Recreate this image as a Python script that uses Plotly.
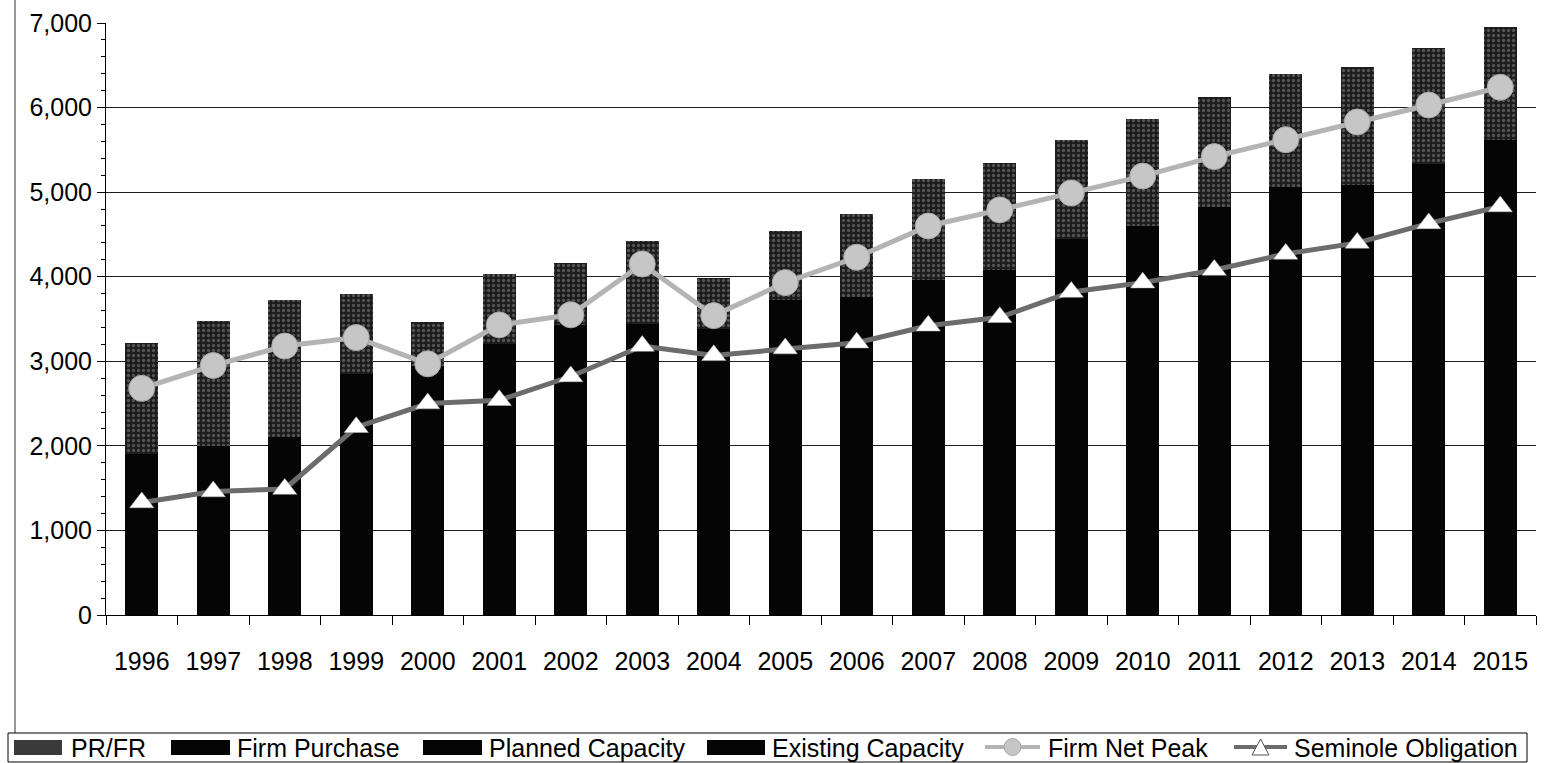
import plotly.graph_objects as go

years = [str(y) for y in range(1996, 2016)]

# stacked bar components (MW)
existing_capacity = [1800, 1900, 2000, 2000, 2000, 2000, 2130, 2140, 2130, 2180,
                     2210, 2260, 2280, 2350, 2400, 2430, 2460, 2490, 2530, 2570]
planned_capacity = [0, 0, 0, 750, 850, 1050, 1150, 1150, 1100, 1400,
                    1400, 1550, 1650, 1950, 2050, 2250, 2450, 2450, 2650, 2900]
firm_purchase = [100, 100, 100, 100, 100, 150, 150, 150, 150, 150,
                 150, 150, 150, 150, 150, 150, 150, 150, 150, 150]
pr_fr = [1320, 1480, 1620, 950, 520, 835, 730, 980, 600, 810,
         985, 1190, 1270, 1170, 1260, 1290, 1340, 1390, 1370, 1330]

firm_net_peak = [2680, 2950, 3180, 3280, 2970, 3430, 3550, 4150, 3540, 3930,
                 4230, 4600, 4790, 4990, 5190, 5420, 5620, 5830, 6030, 6240]
seminole_obligation = [1330, 1460, 1490, 2220, 2500, 2540, 2820, 3180, 3070, 3150,
                       3220, 3420, 3520, 3820, 3930, 4080, 4270, 4400, 4630, 4830]

y_ticks = [0, 1000, 2000, 3000, 4000, 5000, 6000, 7000]
y_tick_labels = ["0", "1,000", "2,000", "3,000", "4,000", "5,000", "6,000", "7,000"]

legend_names = ["PR/FR", "Firm Purchase", "Planned Capacity", "Existing Capacity",
                "Firm Net Peak", "Seminole Obligation"]

FONT = "Liberation Sans, Arial, sans-serif"
BAR_BLACK = "#050505"
PRFR_BG = "#1c1c1c"
PEAK_LINE = "#b4b4b4"
PEAK_MARK = "#c6c6c6"
SEM_LINE = "#6c6c6c"

# plot-area geometry in pixels
W, H = 1544, 763
L, R, T, B = 106, 8, 23, 148
PW, PH = W - L - R, H - T - B


def px(xp):
    return (xp - L) / PW


def py(yp):
    return (H - B - yp) / PH


fig = go.Figure()

fig.add_trace(go.Bar(x=years, y=existing_capacity, name=legend_names[3],
                     marker=dict(color=BAR_BLACK, line=dict(width=0))))
fig.add_trace(go.Bar(x=years, y=planned_capacity, name=legend_names[2],
                     marker=dict(color=BAR_BLACK, line=dict(width=0))))
fig.add_trace(go.Bar(x=years, y=firm_purchase, name=legend_names[1],
                     marker=dict(color=BAR_BLACK, line=dict(width=0))))
fig.add_trace(go.Bar(x=years, y=pr_fr, name=legend_names[0],
                     marker=dict(color=PRFR_BG, line=dict(width=0),
                                 pattern=dict(shape=".", fgcolor="#8a8a8a", bgcolor=PRFR_BG,
                                              size=5, solidity=0.35))))

fig.add_trace(go.Scatter(x=years, y=firm_net_peak, name=legend_names[4], mode="lines+markers",
                         line=dict(color=PEAK_LINE, width=5),
                         marker=dict(symbol="circle", size=26, color=PEAK_MARK,
                                     line=dict(color="#a8a8a8", width=1))))
fig.add_trace(go.Scatter(x=years, y=seminole_obligation, name=legend_names[5],
                         mode="lines+markers",
                         line=dict(color=SEM_LINE, width=5),
                         marker=dict(symbol="triangle-up", size=21, color="#ffffff",
                                     line=dict(color="#bbbbbb", width=0.5))))

fig.update_layout(
    width=W, height=H,
    barmode="stack", bargap=0.54,
    paper_bgcolor="white", plot_bgcolor="white",
    margin=dict(l=L, r=R, t=T, b=B),
    font=dict(family=FONT, color="black", size=25),
    showlegend=False,
    xaxis=dict(type="category", range=[-0.5, len(years) - 0.5],
               showline=True, linecolor="black", linewidth=1,
               ticks="outside", ticklen=9, tickcolor="black", tickson="boundaries",
               tickfont=dict(size=25), ticklabelstandoff=24, showgrid=False),
    yaxis=dict(range=[0, 7000], tickvals=y_ticks, ticktext=y_tick_labels,
               showline=True, linecolor="black", linewidth=1,
               ticks="outside", ticklen=8, tickcolor="black",
               minor=dict(dtick=200, ticks="outside", ticklen=4, tickcolor="black", showgrid=False),
               showgrid=True, gridcolor="#1e1e1e", gridwidth=1,
               tickfont=dict(size=25), zeroline=False),
)

shapes = []
# chart-area left border
shapes.append(dict(type="line", xref="paper", yref="paper", x0=px(15), x1=px(15),
                   y0=py(0), y1=py(733), line=dict(color="#333333", width=1)))
# legend frame
shapes.append(dict(type="rect", xref="paper", yref="paper", x0=px(8), x1=px(1527),
                   y0=py(762), y1=py(733), line=dict(color="black", width=1),
                   fillcolor="white"))
# legend swatches for the bars
swatches = [(14, 62, "#3a3a3a"), (171, 230, BAR_BLACK), (423, 482, BAR_BLACK), (707, 765, BAR_BLACK)]
for x0, x1, col in swatches:
    shapes.append(dict(type="rect", xref="paper", yref="paper", x0=px(x0), x1=px(x1),
                       y0=py(755), y1=py(740), line=dict(width=0), fillcolor=col))
# line symbols
shapes.append(dict(type="line", xref="paper", yref="paper", x0=px(985), x1=px(1040),
                   y0=py(747), y1=py(747), line=dict(color=PEAK_LINE, width=4)))
shapes.append(dict(type="circle", xref="paper", yref="paper", x0=px(1004), x1=px(1021),
                   y0=py(755.5), y1=py(738.5), line=dict(color="#a8a8a8", width=1),
                   fillcolor=PEAK_MARK))
shapes.append(dict(type="line", xref="paper", yref="paper", x0=px(1234), x1=px(1287),
                   y0=py(747), y1=py(747), line=dict(color=SEM_LINE, width=4)))
tri = "M {a},{b} L {c},{b} L {d},{e} Z".format(a=px(1252), c=px(1269), b=py(755),
                                               d=px(1260.5), e=py(739))
shapes.append(dict(type="path", xref="paper", yref="paper", path=tri,
                   line=dict(color="#555555", width=1), fillcolor="white"))
fig.update_layout(shapes=shapes)

text_x = [69, 235, 487, 770, 1046, 1292]
annotations = []
for name, tx in zip(legend_names, text_x):
    annotations.append(dict(text=name, xref="paper", yref="paper", x=px(tx), y=py(747.5),
                            xanchor="left", yanchor="middle", showarrow=False,
                            font=dict(size=25, family=FONT, color="black")))
fig.update_layout(annotations=annotations)

fig.write_html("out.html", config={"displayModeBar": False},
               post_script="document.body.style.margin='0';document.body.style.overflow='hidden';")
